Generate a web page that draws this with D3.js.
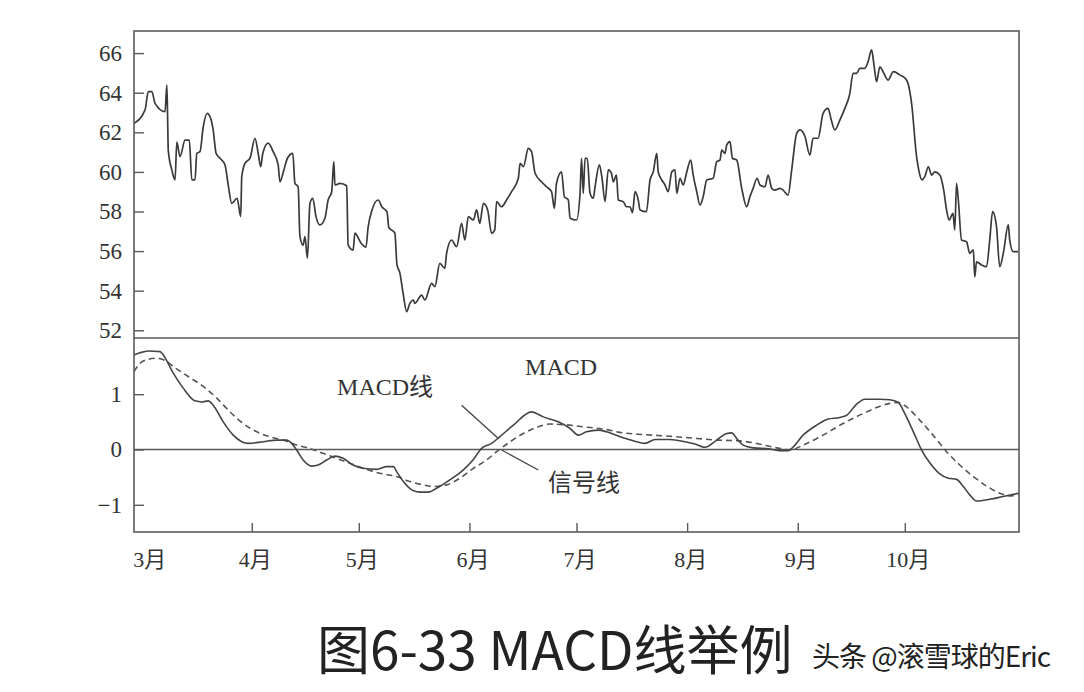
<!DOCTYPE html>
<html><head><meta charset="utf-8">
<script src="https://cdn.jsdelivr.net/npm/d3@7/dist/d3.min.js"></script>
<style>body{margin:0;background:#fff}</style>
</head><body>
<svg id="c" width="1084" height="692"></svg>
<script>
// ---- data (x = days since Feb 27) ----
const monthLabels = ["3月","4月","5月","6月","7月","8月","9月","10月"];
const monthDays = [2,33,63,94,124,155,186,216];
const priceTicks = [52,54,56,58,60,62,64,66];
const macdTicks = [-1,0,1];
const macdTickLabels = ["\u22121","0","1"];

const priceDays = [0,3.1,4.0,5.0,5.9,8.7,9.2,9.4,9.6,10.6,11.5,12.0,12.9,14.3,15.5,16.2,17.1,17.6,18.5,19.4,20.5,21.5,22.2,23.0,24.1,25.5,26.4,27.4,28.9,29.9,30.2,31.1,32.5,33.9,34.8,35.5,36.1,37.6,39.0,40.4,40.9,42.0,43.0,44.5,45.1,46.0,46.5,47.4,47.9,48.6,49.3,50.1,51.0,52.1,53.5,54.4,55.4,56.0,56.3,57.7,59.6,60.0,61.4,61.9,63.6,65.0,65.6,66.7,68.4,69.5,70.9,71.4,73.1,73.7,74.5,75.4,76.4,77.3,78.3,78.7,80.6,81.5,83.4,84.3,85.7,87.1,87.6,89.0,90.4,91.8,92.7,93.7,95.1,96.0,96.9,97.9,99.1,100.2,101.1,101.6,103.0,104.4,105.8,107.7,108.2,109.1,110.5,111.4,112.4,114.2,115.6,117.0,117.8,118.4,119.8,120.6,121.7,122.2,124.0,125.0,125.4,125.9,126.4,127.0,127.8,128.7,129.2,130.4,131.1,132.0,132.9,133.8,134.3,135.2,135.7,137.1,138.0,139.0,139.7,140.4,141.3,141.8,143.6,144.6,145.5,146.5,146.9,147.9,148.8,149.7,150.7,151.6,152.1,153.0,153.9,154.9,156.0,156.7,157.7,158.6,159.5,160.5,162.3,163.3,164.2,164.7,165.6,166.1,167.0,167.7,168.9,170.3,171.7,172.6,173.5,174.6,175.4,176.8,177.7,178.7,179.6,181.0,181.9,183.3,184.3,185.7,186.6,188.0,189.4,190.3,191.7,193.1,194.5,195.4,196.4,197.8,199.2,200.6,201.5,202.5,203.4,204.8,205.7,206.7,207.3,208.1,209.0,209.9,211.3,212.8,214.6,216.5,217.9,219.3,219.7,220.2,220.8,221.6,222.6,223.5,224.4,225.8,226.9,227.7,228.4,229.5,230.0,230.5,231.0,231.9,233.3,234.2,235.2,235.6,236.1,237.5,238.9,239.8,240.6,241.7,242.6,243.6,245.0,245.4,246.4,247.8];
const priceVals = [62.45,63.13,64.05,64.05,63.46,63.04,64.39,62.96,61.1,60.1,59.6,61.5,60.77,61.6,61.6,59.6,59.6,60.94,61.02,62.28,62.96,62.7,62.1,60.94,60.69,60.35,59.34,58.41,58.67,57.74,59.76,60.43,60.69,61.7,60.94,60.26,60.94,61.45,61.02,60.35,59.5,60.1,60.69,60.94,59.42,59.25,56.73,56.3,56.73,55.64,58.41,58.67,57.74,57.32,57.66,58.58,59.0,60.52,59.34,59.42,59.3,56.31,56.05,56.91,56.41,56.2,57.2,58.07,58.58,58.23,57.98,57.2,56.91,55.3,54.9,53.88,52.94,53.36,53.53,53.36,53.78,53.53,54.37,54.2,55.38,55.13,55.89,56.56,56.22,57.4,56.56,57.74,57.57,58.08,57.4,58.41,58.08,56.9,57.07,58.5,58.24,58.58,59.0,59.68,60.43,60.26,61.19,61.02,59.93,59.5,59.25,59.0,58.16,59.42,60.0,58.75,58.58,57.66,57.57,58.92,60.69,58.92,60.69,60.69,58.92,58.67,59.25,60.35,59.76,58.5,60.1,59.93,59.5,59.84,58.58,58.5,58.24,58.24,57.94,59.0,58.58,58.08,57.99,59.59,60.0,60.94,60.0,59.59,59.34,59.0,60.0,60.1,58.92,59.68,59.34,60.0,60.6,59.84,59.0,58.33,58.75,59.59,59.68,60.52,60.6,61.1,60.94,61.36,61.53,60.69,60.6,59.17,58.24,58.75,59.17,59.68,59.34,59.25,59.84,59.17,59.08,59.17,59.08,58.83,60.1,61.95,62.12,61.8,60.85,61.7,61.7,62.96,63.21,62.62,62.12,62.62,63.21,63.97,64.98,64.98,65.23,65.23,65.56,66.16,65.49,64.56,65.31,65.06,64.64,65.06,64.9,64.64,63.46,60.77,60.3,59.85,59.6,59.76,60.26,59.84,60.0,59.84,59.08,58.08,57.57,57.91,57.07,59.42,58.58,56.56,56.47,55.89,56.06,54.7,55.46,55.3,55.21,56.56,57.99,57.23,55.21,55.89,57.32,56.56,55.97,55.97];

const macdDays = [0,1.7,4.0,7.3,8.2,11.0,13.8,17.1,19.0,20.8,22.2,25.0,27.8,30.2,32.0,36.2,40.0,42.8,44.2,45.6,47.4,49.8,51.6,54.0,56.3,58.6,61.4,64.2,68.0,70.8,72.7,73.6,75.5,77.8,80.1,82.5,84.8,88.5,92.3,95.1,97.4,100.2,102.5,106.3,111.4,114.7,118.9,122.2,124.5,126.8,130.1,132.4,136.2,139.9,143.2,146.0,150.2,154.4,157.2,160.0,163.3,166.1,167.5,168.9,170.7,173.5,178.2,181.0,183.3,184.3,187.5,191.3,194.5,197.8,199.7,202.5,204.8,209.0,211.8,214.2,216.0,218.4,220.7,223.0,225.8,228.2,230.5,232.4,234.2,236.1,239.8,243.6,248];
const macdVals = [1.71,1.75,1.78,1.77,1.71,1.38,1.11,0.88,0.86,0.88,0.80,0.50,0.26,0.14,0.11,0.14,0.17,0.17,0.11,-0.01,-0.19,-0.30,-0.28,-0.19,-0.12,-0.16,-0.28,-0.34,-0.36,-0.31,-0.31,-0.40,-0.58,-0.73,-0.77,-0.77,-0.70,-0.55,-0.37,-0.18,0.02,0.11,0.23,0.44,0.68,0.59,0.50,0.38,0.26,0.32,0.35,0.32,0.23,0.16,0.11,0.18,0.18,0.14,0.10,0.04,0.17,0.29,0.30,0.20,0.08,0.03,0.01,-0.02,-0.02,0.02,0.26,0.44,0.55,0.58,0.62,0.82,0.91,0.91,0.90,0.85,0.65,0.32,-0.01,-0.24,-0.44,-0.52,-0.54,-0.67,-0.82,-0.93,-0.90,-0.85,-0.79];

const signalDays = [0,1.7,4.0,6.4,8.7,11.0,15.2,19.4,23.2,26.9,30.6,34.4,38.1,41.8,45.6,49.3,53.0,56.8,60.5,64.2,68.9,73.6,77.3,81.1,83.9,87.6,91.3,95.1,98.8,101.6,105.4,109.1,112.8,116.6,120.3,125.9,131.5,137.1,142.7,150.2,157.7,163.3,168.9,174.5,180.1,183.8,187.5,193.1,198.7,204.3,209.9,214.2,216.5,220.2,223.9,227.7,231.4,235.2,238.9,242.6,245.4,248];
const signalVals = [1.41,1.56,1.63,1.65,1.61,1.50,1.32,1.14,0.93,0.68,0.47,0.32,0.23,0.17,0.08,0.02,-0.07,-0.16,-0.25,-0.34,-0.43,-0.49,-0.58,-0.64,-0.67,-0.64,-0.52,-0.34,-0.19,-0.04,0.14,0.29,0.40,0.46,0.45,0.41,0.37,0.30,0.27,0.24,0.20,0.17,0.16,0.11,0.03,-0.01,0.08,0.26,0.47,0.65,0.80,0.85,0.77,0.53,0.26,-0.04,-0.28,-0.49,-0.66,-0.79,-0.84,-0.80];

// annotation anchors in data space
const labelMacdLine = {text:"MACD线", d:56.9, v:0.99};
const labelPanel = {text:"MACD", d:109.6, v:1.34};
const labelSignal = {text:"信号线", d:116, v:-0.75};
const pointerMacd = [[91.8,0.80],[102.1,0.20]];
const pointerSignal = [[103.0,-0.01],[113.3,-0.37]];

// ---- layout ----
const L=134, R=1019, T=31, MID=338, B=532;
const svg = d3.select("#c");
const serif = "'Liberation Serif','Times New Roman','Noto Sans CJK SC',serif";
const ink = "#333", frameCol = "#5a5a5a";

const x = d3.scaleLinear().domain([0,248]).range([L,R]);
const yP = d3.scaleLinear().domain([52,66]).range([330.3,53.1]);
const yM = d3.scaleLinear().domain([-1,1]).range([504.8,394.2]);

// axes
const axP = svg.append("g").attr("transform",`translate(${L},0)`)
  .call(d3.axisLeft(yP).tickValues(priceTicks).tickSize(-10).tickPadding(12));
const axM = svg.append("g").attr("transform",`translate(${L},0)`)
  .call(d3.axisLeft(yM).tickValues(macdTicks).tickFormat((d,i)=>macdTickLabels[i]).tickSize(-10).tickPadding(12));
const axX = svg.append("g").attr("transform",`translate(0,${B})`)
  .call(d3.axisBottom(x).tickValues(monthDays).tickFormat((d,i)=>monthLabels[i]).tickSize(-9).tickPadding(19));
[axP,axM,axX].forEach(g=>{
  g.select(".domain").remove();
  g.selectAll(".tick line").attr("stroke",frameCol).attr("stroke-width",1.4);
  g.selectAll(".tick text").attr("fill",ink).style("font-family",serif).style("font-size","23px");
});
axX.selectAll(".tick").filter((d,i)=>i===0).select("line").remove();
axX.selectAll(".tick text").attr("dx",(d,i)=>i===0?8:3).style("font-size","22px");

// zero line
svg.append("line").attr("x1",L).attr("x2",R).attr("y1",yM(0)).attr("y2",yM(0))
  .attr("stroke",frameCol).attr("stroke-width",1.4);

// lines
const clip = svg.append("defs");
clip.append("clipPath").attr("id","cp").append("rect").attr("x",L).attr("y",T).attr("width",R-L).attr("height",MID-T);
clip.append("clipPath").attr("id","cm").append("rect").attr("x",L).attr("y",MID).attr("width",R-L).attr("height",B-MID);

const priceData = priceDays.map((d,i)=>[d,priceVals[i]]);
const macdData = macdDays.map((d,i)=>[d,macdVals[i]]);
const signalData = signalDays.map((d,i)=>[d,signalVals[i]]);

svg.append("path").datum(priceData).attr("clip-path","url(#cp)")
  .attr("d",d3.line().x(d=>x(d[0])).y(d=>yP(d[1])).curve(d3.curveMonotoneX))
  .attr("fill","none").attr("stroke","#3a3a3a").attr("stroke-width",1.7).attr("stroke-linejoin","round");

svg.append("path").datum(signalData).attr("clip-path","url(#cm)")
  .attr("d",d3.line().x(d=>x(d[0])).y(d=>yM(d[1])).curve(d3.curveMonotoneX))
  .attr("fill","none").attr("stroke","#555").attr("stroke-width",1.6).attr("stroke-dasharray","6,4");

svg.append("path").datum(macdData).attr("clip-path","url(#cm)")
  .attr("d",d3.line().x(d=>x(d[0])).y(d=>yM(d[1])).curve(d3.curveMonotoneX))
  .attr("fill","none").attr("stroke","#444").attr("stroke-width",1.6);

// pointers
[pointerMacd,pointerSignal].forEach(p=>{
  svg.append("line").attr("x1",x(p[0][0])).attr("y1",yM(p[0][1])).attr("x2",x(p[1][0])).attr("y2",yM(p[1][1]))
    .attr("stroke","#444").attr("stroke-width",1.3);
});

// labels
[labelMacdLine,labelPanel,labelSignal].forEach(l=>{
  svg.append("text").attr("x",x(l.d)).attr("y",yM(l.v)).text(l.text)
    .attr("fill",ink).style("font-family",serif).style("font-size","24px");
});

// frame
svg.append("rect").attr("x",L).attr("y",T).attr("width",R-L).attr("height",B-T)
  .attr("fill","none").attr("stroke",frameCol).attr("stroke-width",1.6);
svg.append("line").attr("x1",L).attr("x2",R).attr("y1",MID).attr("y2",MID)
  .attr("stroke",frameCol).attr("stroke-width",1.6);

// caption
svg.append("text").attr("x",317).attr("y",670).text("图6-33 MACD线举例")
  .attr("fill","#222").style("font-family","'Noto Sans CJK SC','Noto Sans',sans-serif").style("font-size","53px");
svg.append("text").attr("x",812).attr("y",667).text("头条 @滚雪球的Eric")
  .attr("fill","#222").style("font-family","'Noto Sans CJK SC','Noto Sans',sans-serif").style("font-size","28px")
  .style("letter-spacing","-1px");
</script>
</body></html>
